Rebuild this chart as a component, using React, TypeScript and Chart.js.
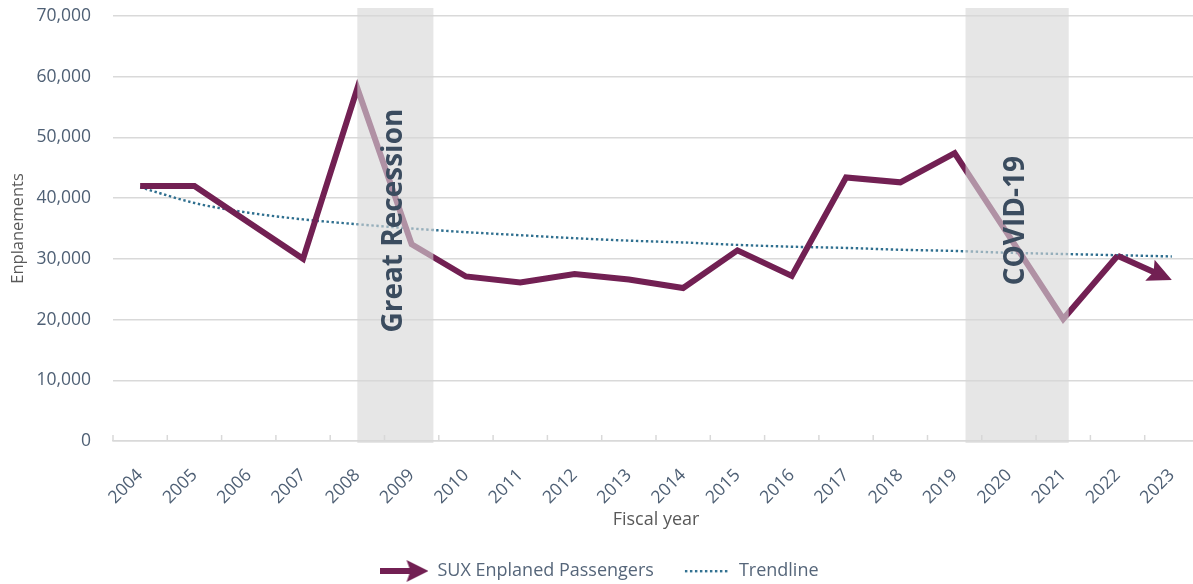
import React, { useEffect, useRef } from "react";
import { Chart, registerables } from "chart.js";

Chart.register(...registerables);

// ---- Data ----
const years = ["2004", "2005", "2006", "2007", "2008", "2009", "2010", "2011", "2012", "2013", "2014", "2015", "2016", "2017", "2018", "2019", "2020", "2021", "2022", "2023"];
const enplanements = [42000, 42000, 36000, 30000, 58100, 32400, 27100, 26100, 27500, 26600, 25200, 31400, 27200, 43400, 42600, 47400, 33800, 20100, 30500, 26500];
const trendline = [41800, 39200, 37600, 36500, 35700, 35000, 34400, 33900, 33400, 33000, 32700, 32300, 32000, 31800, 31500, 31300, 31000, 30800, 30600, 30400];
const yMin = 0;
const yMax = 70000;
const yStep = 10000;
const eventLabels = ["Great Recession", "COVID-19"];
const eventStartYears = [2008.0, 2019.2];
const eventEndYears = [2009.4, 2021.1];

const LINE_COLOR = "#722053";
const TREND_COLOR = "#2f6f8f";
const FONT = "'Open Sans', 'Noto Sans', sans-serif";

function makeArrowIcon(): HTMLCanvasElement {
  const c = document.createElement("canvas");
  c.width = 48;
  c.height = 24;
  const g = c.getContext("2d")!;
  g.strokeStyle = LINE_COLOR;
  g.fillStyle = LINE_COLOR;
  g.lineWidth = 6;
  g.beginPath();
  g.moveTo(0, 12);
  g.lineTo(30, 12);
  g.stroke();
  g.beginPath();
  g.moveTo(48, 12);
  g.lineTo(26, 1);
  g.lineTo(30, 12);
  g.lineTo(26, 23);
  g.closePath();
  g.fill();
  return c;
}

function makeDotIcon(): HTMLCanvasElement {
  const c = document.createElement("canvas");
  c.width = 44;
  c.height = 24;
  const g = c.getContext("2d")!;
  g.fillStyle = TREND_COLOR;
  for (let x = 1; x < 44; x += 5) {
    g.fillRect(x, 11, 2.4, 2.4);
  }
  return c;
}

const overlayPlugin = {
  id: "overlayPlugin",
  afterDatasetsDraw(chart: any) {
    const { ctx, chartArea, scales } = chart;
    const xs = scales.x;
    const ys = scales.y;
    // inner tick marks on x-axis at category boundaries
    ctx.save();
    ctx.strokeStyle = "#d9d9d9";
    ctx.lineWidth = 1.5;
    for (let i = 0; i <= years.length; i++) {
      const px = xs.getPixelForValue(i - 0.5);
      ctx.beginPath();
      ctx.moveTo(px, chartArea.bottom);
      ctx.lineTo(px, chartArea.bottom - 6);
      ctx.stroke();
    }
    ctx.restore();

    // arrow for last segment
    const meta = chart.getDatasetMeta(0);
    const n = enplanements.length;
    const p0 = meta.data[n - 2];
    const p1 = meta.data[n - 1];
    const dx = p1.x - p0.x;
    const dy = p1.y - p0.y;
    const len = Math.sqrt(dx * dx + dy * dy);
    const ux = dx / len;
    const uy = dy / len;
    const nx = -uy;
    const ny = ux;
    const headLen = 24;
    const headHalf = 11.5;
    const notch = 4;
    const baseX = p1.x - ux * headLen;
    const baseY = p1.y - uy * headLen;
    ctx.save();
    ctx.strokeStyle = LINE_COLOR;
    ctx.fillStyle = LINE_COLOR;
    ctx.lineWidth = 6;
    ctx.lineJoin = "miter";
    ctx.beginPath();
    ctx.moveTo(p0.x, p0.y);
    ctx.lineTo(baseX + ux * (notch + 2), baseY + uy * (notch + 2));
    ctx.stroke();
    ctx.beginPath();
    ctx.moveTo(p1.x, p1.y);
    ctx.lineTo(baseX + nx * headHalf, baseY + ny * headHalf);
    ctx.lineTo(baseX + ux * notch, baseY + uy * notch);
    ctx.lineTo(baseX - nx * headHalf, baseY - ny * headHalf);
    ctx.closePath();
    ctx.fill();
    ctx.restore();

    // event bands + labels
    for (let k = 0; k < eventLabels.length; k++) {
      const x0 = xs.getPixelForValue(eventStartYears[k] - Number(years[0]));
      const x1 = xs.getPixelForValue(eventEndYears[k] - Number(years[0]));
      const top = chartArea.top - 8;
      const bottom = chartArea.bottom + 2;
      ctx.save();
      ctx.fillStyle = "rgba(214,214,214,0.62)";
      ctx.fillRect(x0, top, x1 - x0, bottom - top);
      ctx.restore();
    }
    for (let k = 0; k < eventLabels.length; k++) {
      const x0 = xs.getPixelForValue(eventStartYears[k] - Number(years[0]));
      const x1 = xs.getPixelForValue(eventEndYears[k] - Number(years[0]));
      const cx = (x0 + x1) / 2;
      const cy = ys.getPixelForValue(36300);
      ctx.save();
      ctx.translate(cx - 1, cy);
      ctx.rotate(-Math.PI / 2);
      ctx.fillStyle = "#3b4c5f";
      ctx.font = `bold 28px ${FONT}`;
      ctx.textAlign = "center";
      ctx.textBaseline = "middle";
      ctx.fillText(eventLabels[k], 0, 0);
      ctx.restore();
    }
  },
};

export default function App() {
  const ref = useRef<HTMLCanvasElement | null>(null);

  useEffect(() => {
    if (!ref.current) return;
    const arrowIcon = makeArrowIcon();
    const dotIcon = makeDotIcon();
    const lastSeg = enplanements.length - 2;
    const chart = new Chart(ref.current, {
      type: "line",
      data: {
        labels: years,
        datasets: [
          {
            label: "SUX Enplaned Passengers",
            data: enplanements,
            borderColor: LINE_COLOR,
            backgroundColor: LINE_COLOR,
            borderWidth: 6,
            pointRadius: 0,
            pointHoverRadius: 0,
            tension: 0,
            borderJoinStyle: "miter",
            borderCapStyle: "butt",
            segment: {
              borderColor: (c: any) =>
                c.p0DataIndex === lastSeg ? "rgba(0,0,0,0)" : LINE_COLOR,
            },
            order: 1,
          } as any,
          {
            label: "Trendline",
            data: trendline,
            borderColor: TREND_COLOR,
            backgroundColor: TREND_COLOR,
            borderWidth: 2.4,
            borderDash: [2.4, 2.6],
            pointRadius: 0,
            pointHoverRadius: 0,
            tension: 0.4,
            cubicInterpolationMode: "monotone",
            order: 2,
          } as any,
        ],
      },
      options: {
        responsive: false,
        animation: false,
        events: [],
        layout: { padding: { top: 16, left: 0, right: 7, bottom: 0 } },
        plugins: {
          tooltip: { enabled: false },
          legend: {
            position: "bottom",
            labels: {
              usePointStyle: true,
              pointStyleWidth: 48,
              padding: 28,
              color: "#56667a",
              font: { family: FONT, size: 18 },
              generateLabels: (ch: any) =>
                ch.data.datasets.map((ds: any, i: number) => ({
                  text: ds.label,
                  pointStyle: i === 0 ? arrowIcon : dotIcon,
                  fillStyle: ds.borderColor,
                  strokeStyle: ds.borderColor,
                  lineWidth: 0,
                  hidden: false,
                  datasetIndex: i,
                  fontColor: "#56667a",
                })),
            },
          },
        },
        scales: {
          x: {
            offset: true,
            grid: { display: false, offset: true },
            border: { display: true, color: "#d9d9d9", width: 1.5 },
            ticks: {
              color: "#4f6075",
              font: { family: FONT, size: 17.5 },
              minRotation: 45,
              maxRotation: 45,
              padding: 16,
              autoSkip: false,
            },
            title: {
              display: true,
              text: "Fiscal year",
              color: "#595959",
              font: { family: FONT, size: 18 },
              padding: { top: 4, bottom: 3 },
            },
            afterFit: (s: any) => {
              s.height = 93;
            },
          },
          y: {
            min: yMin,
            max: yMax,
            grid: { color: "#d9d9d9", lineWidth: 1.5, drawTicks: false },
            border: { display: false },
            ticks: {
              stepSize: yStep,
              color: "#4f6075",
              font: { family: FONT, size: 17.5 },
              padding: 22,
              callback: (v: any) => Number(v).toLocaleString("en-US"),
            },
            title: {
              display: true,
              text: "Enplanements",
              color: "#595959",
              font: { family: FONT, size: 16.5 },
              padding: { top: 8, bottom: 0 },
            },
            afterFit: (s: any) => {
              s.width = 113;
              s.paddingTop = 0;
              s.paddingBottom = 0;
            },
          },
        },
      },
      plugins: [overlayPlugin],
    });
    return () => chart.destroy();
  }, []);

  return (
    <div
      style={{
        position: "absolute",
        left: 0,
        top: 0,
        width: 1193,
        height: 584,
        overflow: "hidden",
        background: "#ffffff",
      }}
    >
      <canvas ref={ref} width={1206} height={590} style={{ display: "block" }} />
    </div>
  );
}
